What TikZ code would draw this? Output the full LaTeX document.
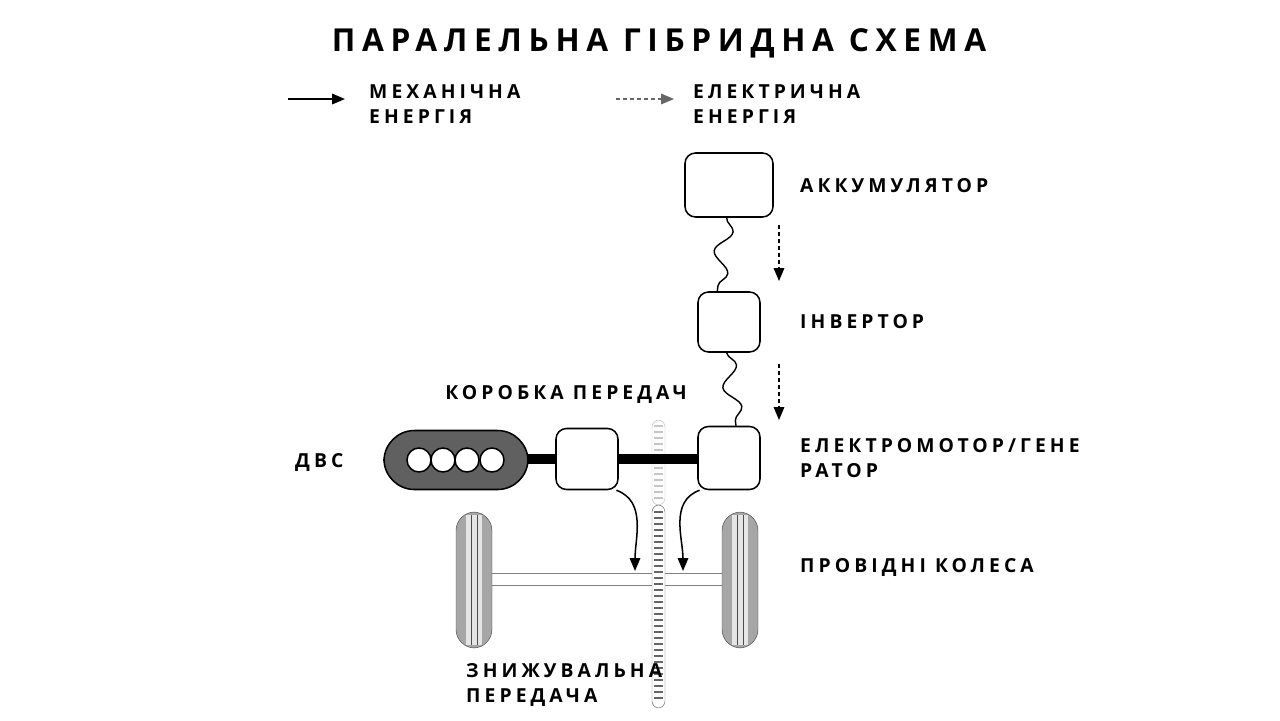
\documentclass[tikz,border=0pt]{standalone}
\usepackage{fontspec}
\setmainfont[LetterSpace=21]{Open Sans}
\usetikzlibrary{decorations.pathmorphing,arrows.meta}
\begin{document}
\begin{tikzpicture}[x=0.03cm,y=-0.03cm,
	lbl/.style={font=\fontsize{16.5}{21}\selectfont\bfseries,anchor=west,align=left,inner sep=0pt},
	unit/.style={draw,line width=1.3pt,fill=white,rounded corners=9pt,inner sep=0pt},
	wave/.style={line width=1.2pt,decorate,decoration={snake,amplitude=7pt,segment length=36pt}},
	flow/.style={line width=1.3pt,-{Triangle[length=11pt,width=9pt]}},
	eflow/.style={line width=1.2pt,dashed,-{Triangle[length=11pt,width=9pt]}}]
	\useasboundingbox (0,0) rectangle (1280,720);
	% title and legend
	\node[font=\fontsize{27}{30}\selectfont\bfseries] (title) at (659,43) {ПАРАЛЕЛЬНА ГІБРИДНА СХЕМА};
	\coordinate (m1) at (288,99); \coordinate (m2) at (345,99);
	\draw[flow] (m1) -- (m2);
	\node[lbl] (mtxt) at (369,104) {МЕХАНІЧНА\\ЕНЕРГІЯ};
	\coordinate (e1) at (616,99); \coordinate (e2) at (674,99);
	\draw[eflow,gray!80!black] (e1) -- (e2);
	\node[lbl] (etxt) at (693,104) {ЕЛЕКТРИЧНА\\ЕНЕРГІЯ};
	% wheels and axle
	\draw[gray] (492,573) -- (722,573) (492,585) -- (722,585);
	\foreach \wx in {474,740}{
		\draw[black!70,fill=gray!70,rounded corners=16pt] (\wx-18,512) rectangle (\wx+18,648);
		\fill[gray!20] (\wx-8,515) rectangle (\wx+8,645);
		\draw[gray!60!black] (\wx-3,515) -- (\wx-3,645) (\wx+3,515) -- (\wx+3,645);
	}
	% reduction gear
	\draw[gray!50,fill=white,rounded corners=6pt] (652,420) rectangle (665,505);
	\draw[black!60,fill=white,rounded corners=6pt] (652,505) rectangle (665,708);
	\foreach \gy in {426,432,...,500}{\draw[gray!45,line width=1pt] (654,\gy) -- (663,\gy);}
	\foreach \gy in {512,518,...,702}{\draw[black!60,line width=1pt] (654,\gy) -- (663,\gy);}
	% shafts
	\draw[line width=9pt] (528,459) -- (556,459);
	\draw[line width=9pt] (618,459) -- (698,459);
	% units
	\node[unit,minimum width=88*0.03cm,minimum height=64*0.03cm] (batt) at (729,185) {};
	\node[unit,minimum width=62*0.03cm,minimum height=60*0.03cm] (inv) at (729,322) {};
	\node[unit,minimum width=62*0.03cm,minimum height=63*0.03cm] (mot) at (729,458) {};
	\node[unit,minimum width=62*0.03cm,minimum height=61*0.03cm] (gbox) at (587,459) {};
	\node[draw,line width=1.3pt,fill=gray!75!black,rounded corners=26pt,minimum width=144*0.03cm,minimum height=59*0.03cm] (ice) at (456,460) {};
	\foreach \cx in {419,443,467,492}{\draw[line width=1.3pt,fill=white] (\cx,460) circle (12);}
	% cables
	\draw[wave] ([xshift=-2pt]batt.south) -- ([xshift=-10pt]inv.north);
	\draw[wave] ([xshift=-2pt]inv.south) -- ([xshift=6pt]mot.north);
	\coordinate (d1) at (779,225); \coordinate (d2) at (779,281);
	\coordinate (d3) at (779,364); \coordinate (d4) at (779,420);
	\draw[eflow] (d1) -- (d2);
	\draw[eflow] (d3) -- (d4);
	% mechanical flow
	\coordinate (g1) at (635,571); \coordinate (g2) at (683,571);
	\draw[flow] ([xshift=-2pt]gbox.south east) to[out=-20,in=90] (g1);
	\draw[flow] ([xshift=2pt]mot.south west) to[out=200,in=90] (g2);
	% labels
	\node[lbl] (lbatt) at (800,186) {АККУМУЛЯТОР};
	\node[lbl] (linv) at (800,322) {ІНВЕРТОР};
	\node[lbl] (lmot) at (800,458) {ЕЛЕКТРОМОТОР/ГЕНЕ\\РАТОР};
	\node[lbl] (lwh) at (800,567) {ПРОВІДНІ КОЛЕСА};
	\node[lbl,anchor=center] (lgb) at (566,394) {КОРОБКА ПЕРЕДАЧ};
	\node[lbl] (lice) at (295,463) {ДВС};
	\node[lbl] (lred) at (466,685) {ЗНИЖУВАЛЬНА\\ПЕРЕДАЧА};
\end{tikzpicture}
\end{document}
